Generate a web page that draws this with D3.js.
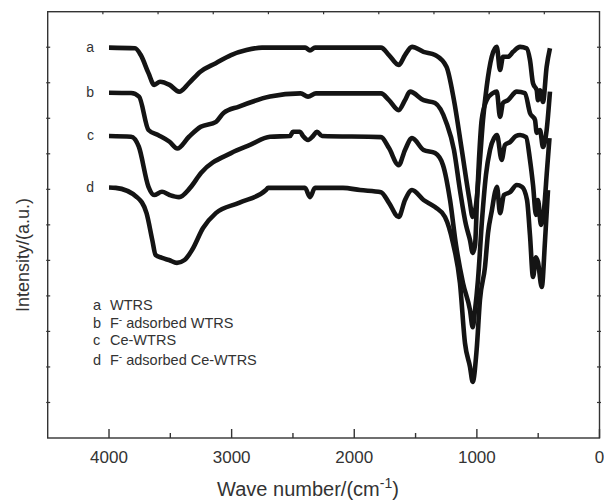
<!DOCTYPE html>
<html>
<head>
<meta charset="utf-8">
<script src="https://cdn.jsdelivr.net/npm/d3@7"></script>
<style>
  body { margin: 0; background: #fff; }
  text { font-family: "Liberation Sans", Arial, sans-serif; fill: #333; }
</style>
</head>
<body>
<svg id="chart"></svg>
<script>
const width = 604;
const height = 501;
const margin = {left: 47.7, right: 4.5, top: 11.7, bottom: 63};

// FTIR spectra, [wave number (cm-1), intensity (a.u.)]
const curve_a = [
    [4000, 109.9], [3788, 109.7], [3741, 107.8], [3678, 102.7], [3631, 99.4], [3584, 100.3],
    [3506, 99.4], [3428, 97.5], [3348, 99.9], [3255, 103.1], [3129, 105.5], [3005, 107.8],
    [2879, 109.2], [2752, 109.9], [2400, 109.9], [2361, 109.1], [2320, 109.9], [1782, 109.9],
    [1717, 107.8], [1638, 105.0], [1586, 107.8], [1529, 110.1], [1435, 108.7], [1341, 107.8],
    [1248, 104.5], [1187, 95.1], [1123, 81.1], [1060, 67.0], [1034, 62.2], [1007, 65.6],
    [975, 78.3], [950, 89.5], [920, 98.9], [879, 107.3], [838, 110.1], [811, 103.6],
    [787, 107.3], [746, 107.3], [705, 108.7], [648, 110.1], [594, 109.7], [567, 106.4],
    [542, 99.8], [512, 97.9], [502, 95.1], [485, 97.9], [461, 94.6], [431, 104.5], [404, 109.7]
];
const curve_b = [
    [4000, 97.2], [3820, 97.1], [3755, 96.1], [3678, 86.7], [3600, 85.3], [3506, 83.4],
    [3443, 81.5], [3348, 84.8], [3252, 87.6], [3127, 89.0], [3066, 91.5], [2940, 93.3],
    [2687, 96.1], [2438, 97.0], [2377, 96.1], [2312, 97.0], [1782, 97.0], [1717, 95.1],
    [1638, 92.3], [1586, 95.1], [1545, 97.5], [1435, 95.1], [1341, 94.3], [1248, 88.7],
    [1187, 81.1], [1138, 69.8], [1089, 60.0], [1056, 55.7], [1034, 52.1], [1015, 54.3],
    [999, 67.0], [983, 78.3], [961, 89.5], [920, 95.1], [869, 97.1], [838, 97.5],
    [811, 90.4], [787, 94.3], [746, 95.1], [675, 97.5], [608, 97.1], [567, 91.5],
    [526, 89.5], [512, 85.9], [485, 86.7], [461, 81.9], [431, 86.7], [404, 97.5]
];
const curve_c = [
    [4000, 85.0], [3820, 84.8], [3757, 82.0], [3678, 70.7], [3633, 68.4], [3568, 69.3],
    [3506, 68.4], [3429, 67.8], [3339, 70.4], [3250, 74.6], [3005, 80.2], [2850, 82.5],
    [2687, 84.8], [2524, 85.0], [2500, 86.2], [2442, 86.2], [2418, 85.0], [2377, 83.9],
    [2336, 85.0], [2304, 86.2], [2263, 85.0], [1782, 84.7], [1717, 81.6], [1638, 76.8],
    [1586, 81.1], [1529, 84.4], [1435, 81.1], [1341, 80.2], [1276, 76.8], [1219, 67.0],
    [1170, 54.3], [1113, 43.6], [1056, 36.0], [1034, 31.2], [1015, 36.0], [991, 44.5],
    [958, 61.4], [926, 74.0], [893, 81.1], [860, 84.4], [836, 85.3], [798, 78.3],
    [771, 82.5], [730, 83.3], [681, 85.0], [648, 85.3], [599, 84.7], [567, 78.3],
    [542, 71.2], [518, 62.8], [502, 67.0], [477, 60.0], [453, 64.2], [428, 75.4], [408, 84.4]
];
const curve_d = [
    [4000, 70.5], [3945, 70.4], [3772, 67.8], [3694, 63.3], [3647, 55.7], [3620, 51.5],
    [3568, 50.7], [3511, 50.1], [3446, 49.3], [3384, 50.1], [3323, 52.9], [3233, 59.1],
    [3129, 63.3], [2940, 66.2], [2720, 69.8], [2703, 70.4], [2402, 70.4], [2361, 67.8],
    [2320, 70.4], [2092, 70.4], [1953, 69.8], [1782, 69.2], [1717, 66.2], [1638, 62.2],
    [1586, 67.0], [1529, 69.8], [1435, 67.0], [1341, 65.0], [1260, 62.2], [1195, 54.9],
    [1138, 43.6], [1097, 26.7], [1056, 20.0], [1034, 15.8], [1002, 24.8], [975, 38.8],
    [934, 48.1], [909, 57.7], [877, 64.2], [852, 69.2], [836, 70.7], [811, 63.3],
    [779, 68.4], [730, 69.2], [675, 71.2], [632, 70.7], [591, 67.0], [567, 57.1],
    [542, 45.3], [518, 50.9], [502, 49.5], [471, 42.5], [444, 55.7], [420, 69.8]
];
const curves = [curve_a, curve_b, curve_c, curve_d];
const curve_labels = ["a", "b", "c", "d"];
const legend_items = [
    ["a", "WTRS", false],
    ["b", " adsorbed WTRS", true],
    ["c", "Ce-WTRS", false],
    ["d", " adsorbed Ce-WTRS", true]
];
const x_major = [4000, 3000, 2000, 1000, 0];
const x_minor = [3500, 2500, 1500, 500];
const y_ticks = d3.range(0, 121, 10);
const top_ticks = d3.range(1, 10);

const svg = d3.select('#chart')
    .attr('width', width)
    .attr('height', height);

const x = d3.scaleLinear()
    .domain([4500, 0])
    .range([margin.left, width - margin.right]);
const y = d3.scaleLinear()
    .domain([0, 120])
    .range([height - margin.bottom, margin.top]);
// top frame ticks split the box into ten equal parts
const x_top = d3.scaleLinear()
    .domain([0, 10])
    .range([margin.left, width - margin.right]);

const line = d3.line()
    .x(d => x(d[0]))
    .y(d => y(d[1]))
    .curve(d3.curveMonotoneX);

// spectra
svg.selectAll('.spectrum')
    .data(curves)
    .enter().append('path')
        .attr('class', 'spectrum')
        .attr('d', line)
        .style('fill', 'none')
        .style('stroke', '#141414')
        .style('stroke-width', 4.6)
        .style('stroke-linejoin', 'round');

// curve letters
svg.selectAll('.curve_label')
    .data(curves)
    .enter().append('text')
        .attr('class', 'curve_label')
        .attr('x', d => x(d[0][0]) - 15)
        .attr('y', d => y(d[0][1]) + 4)
        .attr('text-anchor', 'end')
        .style('font-size', '14px')
        .text((d, i) => curve_labels[i]);

// frame
const axis_color = '#333';
const x0 = margin.left, x1 = width - margin.right;
const y0 = margin.top, y1 = height - margin.bottom;
svg.append('rect')
    .attr('x', x0).attr('y', y0)
    .attr('width', x1 - x0).attr('height', y1 - y0)
    .style('fill', 'none')
    .style('stroke', axis_color)
    .style('stroke-width', 1.4);

// bottom ticks (inside)
svg.selectAll('.xmajor')
    .data(x_major)
    .enter().append('line')
        .attr('x1', d => x(d)).attr('x2', d => x(d))
        .attr('y1', y1).attr('y2', y1 - 9)
        .style('stroke', axis_color).style('stroke-width', 1.4);
svg.selectAll('.xminor')
    .data(x_minor)
    .enter().append('line')
        .attr('x1', d => x(d)).attr('x2', d => x(d))
        .attr('y1', y1).attr('y2', y1 - 5)
        .style('stroke', axis_color).style('stroke-width', 1.4);
svg.selectAll('.xlabel')
    .data(x_major)
    .enter().append('text')
        .attr('x', d => x(d))
        .attr('y', y1 + 25)
        .attr('text-anchor', 'middle')
        .style('font-size', '17px')
        .text(d => d);

// top ticks
svg.selectAll('.toptick')
    .data(top_ticks)
    .enter().append('line')
        .attr('x1', d => x_top(d)).attr('x2', d => x_top(d))
        .attr('y1', y0).attr('y2', y0 + 2.5)
        .style('stroke', axis_color).style('stroke-width', 1.2);

// left and right ticks
svg.selectAll('.ltick')
    .data(y_ticks.slice(1, -1))
    .enter().append('line')
        .attr('x1', x0 - 1.5).attr('x2', x0 + 2.5)
        .attr('y1', d => y(d)).attr('y2', d => y(d))
        .style('stroke', axis_color).style('stroke-width', 1.2);
svg.selectAll('.rtick')
    .data(y_ticks.slice(1, -1))
    .enter().append('line')
        .attr('x1', x1 - 2.5).attr('x2', x1 + 1.5)
        .attr('y1', d => y(d)).attr('y2', d => y(d))
        .style('stroke', axis_color).style('stroke-width', 1.2);

// axis titles
const xt = svg.append('text')
    .attr('x', 308)
    .attr('y', 496)
    .attr('text-anchor', 'middle')
    .style('font-size', '20px');
xt.append('tspan').text('Wave number/(cm');
xt.append('tspan').attr('dy', -8).style('font-size', '14px').text('-1');
xt.append('tspan').attr('dy', 8).text(')');

svg.append('text')
    .attr('transform', 'translate(29,255) rotate(-90)')
    .attr('text-anchor', 'middle')
    .style('font-size', '18px')
    .text('Intensity/(a.u.)');

// legend
const legend_y = [309.5, 327.5, 344.5, 364.5];
legend_items.forEach((item, i) => {
    svg.append('text')
        .attr('x', 93).attr('y', legend_y[i])
        .style('font-size', '14.5px')
        .text(item[0]);
    const t = svg.append('text')
        .attr('x', 110).attr('y', legend_y[i])
        .style('font-size', '14.5px');
    if (item[2]) {
        t.append('tspan').text('F');
        t.append('tspan').attr('dy', -5).style('font-size', '10px').text('-');
        t.append('tspan').attr('dy', 5).text(item[1]);
    } else {
        t.text(item[1]);
    }
});
</script>
</body>
</html>
